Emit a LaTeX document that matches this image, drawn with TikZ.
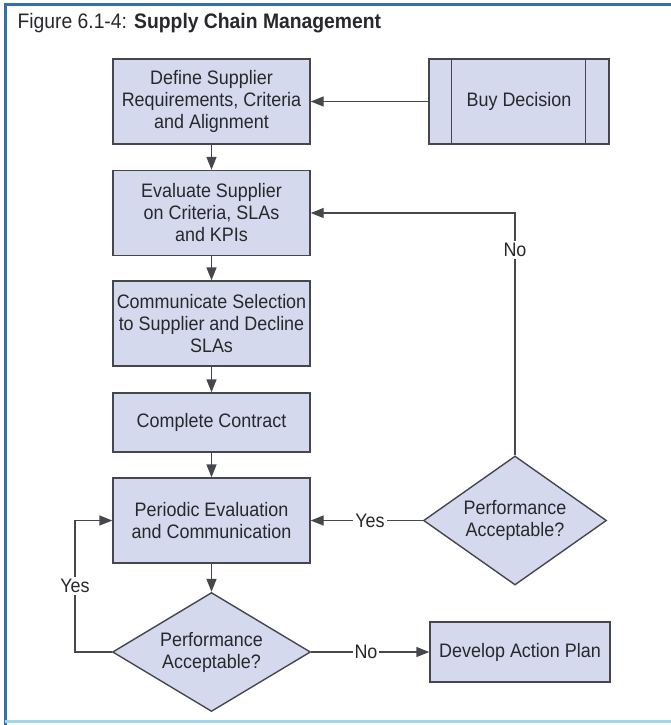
\documentclass[tikz,border=0pt]{standalone}
\usepackage{fontspec}
\setmainfont[FakeStretch=0.92]{Liberation Sans}
\usetikzlibrary{shapes.geometric,arrows.meta}

\definecolor{boxfill}{RGB}{212,217,237}
\definecolor{boxline}{RGB}{70,70,78}
\definecolor{txt}{RGB}{40,40,44}
\definecolor{frameblue}{RGB}{52,112,172}
\definecolor{framelight}{RGB}{160,214,238}

\tikzset{
  box/.style={draw=boxline, fill=boxfill, line width=1.4pt, align=center,
    minimum width=197pt, minimum height=85pt, inner sep=2pt},
  dec/.style={draw=boxline, fill=boxfill, line width=1.4pt, align=center,
    diamond, aspect=1.4, inner sep=0pt},
  arr/.style={draw=boxline, line width=1.4pt, -{Triangle[length=13pt,width=10pt]}},
  lbl/.style={fill=white, inner sep=2pt},
}

\begin{document}
\begin{tikzpicture}[x=1pt, y=-1pt, text=txt, font=\fontsize{19.5}{22}\selectfont]
    \useasboundingbox (0,0) rectangle (671,725);
    % frame
    \draw[frameblue, line width=3pt] (5,725) -- (5,5) -- (671,5);
    \draw[framelight, line width=3pt] (5,721) -- (671,721);

    \node[anchor=base west, font=\fontsize{21}{24}\selectfont] (title) at (14,29)
      {Figure 6.1-4: \textbf{Supply Chain Management}};

    % main column
    \node[box] (def) at (211.5,101.5) {Define Supplier\\Requirements, Criteria\\and Alignment};
    \node[box] (eval) at (211.5,213) {Evaluate Supplier\\on Criteria, SLAs\\and KPIs};
    \node[box] (comm) at (211.5,323.5) {Communicate Selection\\to Supplier and Decline\\SLAs};
    \node[box, minimum height=59pt] (contract) at (211.5,422.5) {Complete Contract};
    \node[box] (periodic) at (211.5,520.5) {Periodic Evaluation\\and Communication};
    \node[dec, minimum width=198pt, minimum height=119pt] (perfB) at (211.5,652) {Performance\\Acceptable?};

    % right column
    \node[box, minimum width=180pt] (buy) at (519,101.5) {Buy Decision};
    \draw[boxline, line width=1.4pt] ([xshift=23pt]buy.north west) -- ([xshift=23pt]buy.south west);
    \draw[boxline, line width=1.4pt] ([xshift=-24pt]buy.north east) -- ([xshift=-24pt]buy.south east);
    \node[dec, minimum width=183pt, minimum height=129pt] (perfR) at (515,520.5) {Performance\\Acceptable?};
    \node[box, minimum width=180pt, minimum height=60pt] (plan) at (520,652) {Develop Action Plan};

    \coordinate (loopL) at (75,652);

    \draw[arr] (buy) -- (def);
    \foreach \a/\b in {def/eval, eval/comm, comm/contract, contract/periodic, periodic/perfB} {
      \draw[arr] (\a) -- (\b);
    }
    \draw[arr] (perfR.north) |- (eval.east);
    \draw[arr] (perfR.west) -- (periodic.east);
    \draw[arr] (perfB.west) -- (loopL) |- (periodic.west);
    \draw[arr] (perfB.east) -- (plan.west);

    % answers
    \node[lbl] (noR) at (515,250) {No};
    \node[lbl] (yesR) at (370,520.5) {Yes};
    \node[lbl] (yesL) at (75,586) {Yes};
    \node[lbl] (noB) at (366,652) {No};

  \end{tikzpicture}
\end{document}
